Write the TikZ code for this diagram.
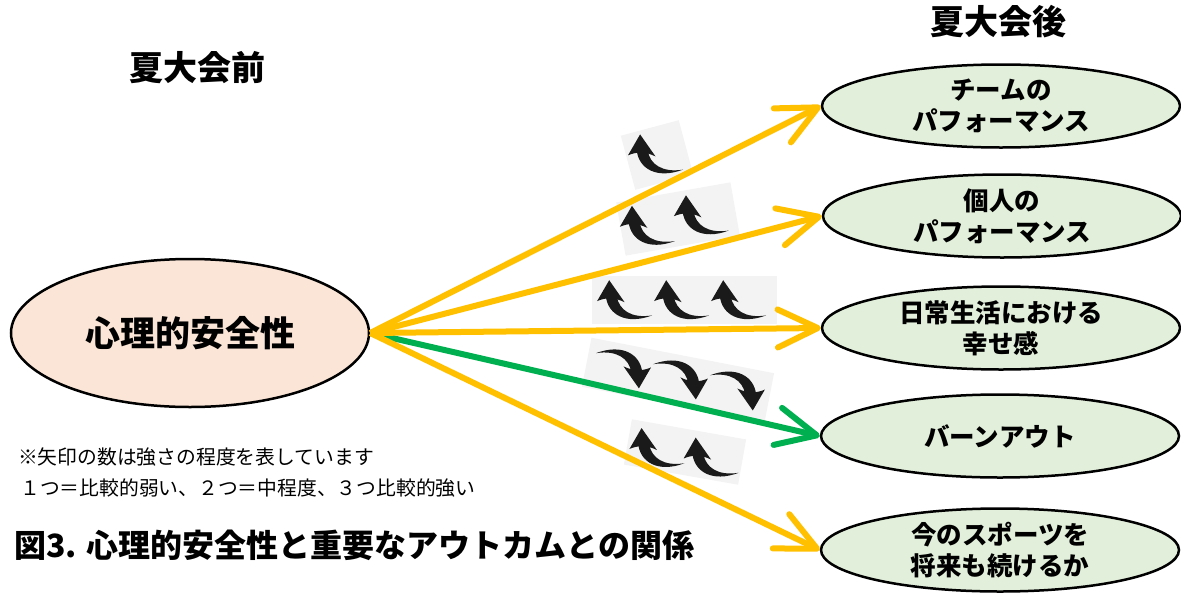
\documentclass[tikz,border=0pt]{standalone}
\usepackage{fontspec}
\newfontfamily\jp{Noto Sans CJK JP}
\usetikzlibrary{shapes.geometric,arrows.meta}
\definecolor{arrY}{HTML}{FFC000}
\definecolor{arrG}{HTML}{00B050}
\definecolor{srcfill}{HTML}{FBE5D6}
\definecolor{outfill}{HTML}{E2EFDA}
\definecolor{iconbg}{HTML}{F3F3F3}
\definecolor{iconfg}{HTML}{1A1A1A}
\tikzset{
  every node/.style={font=\jp},
  srcnode/.style={ellipse, draw=black, line width=2.5pt, fill=srcfill, minimum width=358pt, minimum height=148pt, inner sep=0pt, font=\jp\bfseries\fontsize{35}{40}\selectfont},
  outnode/.style={ellipse, draw=black, line width=2.5pt, fill=outfill, minimum width=358pt, minimum height=83pt, inner sep=0pt, align=center, font=\jp\bfseries\fontsize{25.5}{31}\selectfont},
  header/.style={font=\jp\bfseries\fontsize{34}{38}\selectfont},
  notetext/.style={anchor=west, inner sep=0pt, font=\jp\fontsize{19.8}{22}\selectfont},
  titletext/.style={anchor=west, inner sep=0pt, font=\jp\bfseries\fontsize{32}{36}\selectfont},
  link/.style={line width=6pt, -{Straight Barb[length=40pt,width=38pt,round]}},
  iconbox/.style={fill=iconbg, draw=none},
  upcurl/.pic={
    \begin{scope}[scale=1.1, shift={(-18,-18)}]
      \fill[iconfg] (0,0) -- (-11,19) .. controls (-4,16) and (4,15) .. (14,20) -- cycle;
      \fill[iconfg] (-3,15) .. controls (-1,31) and (15,41) .. (39,32)
                    .. controls (20,35) and (9,27) .. (7,15) -- cycle;
    \end{scope}
  }
}
\begin{document}
\begin{tikzpicture}[x=1pt,y=-1pt]
\useasboundingbox (0,0) rectangle (1181,595);

% headers
\node[header] (hpre) at (197,68) {夏大会前};
\node[header] (hpost) at (998,22) {夏大会後};

% strength icons (behind the connectors)
\begin{scope}[shift={(657,155)}, rotate=15]
  \fill[iconbox] (-30,-28) rectangle (30,28);
  \pic at (3,0) {upcurl};
\end{scope}
\begin{scope}[shift={(678,219)}, rotate=10]
  \fill[iconbox] (-58,-27) rectangle (58,27);
  \pic at (-27,2) {upcurl};
  \pic at (28,1) {upcurl};
\end{scope}
\begin{scope}[shift={(684,300)}]
  \fill[iconbox] (-92,-24) rectangle (93,24);
  \pic at (-55,0) {upcurl};
  \pic at (2,0) {upcurl};
  \pic at (59,0) {upcurl};
\end{scope}
\begin{scope}[shift={(678,380)}, rotate=-11]
  \fill[iconbox] (-93,-25) rectangle (93,25);
  \pic[rotate=180] at (-60,0) {upcurl};
  \pic[rotate=180] at (-2,0) {upcurl};
  \pic[rotate=180] at (56,0) {upcurl};
\end{scope}
\begin{scope}[shift={(685,452)}, rotate=-10]
  \fill[iconbox] (-58,-23) rectangle (58,23);
  \pic at (-24,0) {upcurl};
  \pic at (31,0) {upcurl};
\end{scope}

% nodes
\node[srcnode] (src) at (190,333) {心理的安全性};
\node[outnode] (t1) at (1001,106) {チームの\\パフォーマンス};
\node[outnode] (t2) at (1002,216) {個人の\\パフォーマンス};
\node[outnode] (t3) at (1001,328) {日常生活における\\幸せ感};
\node[outnode] (t4) at (1000,436) {バーンアウト};
\node[outnode] (t5) at (1000,550) {今のスポーツを\\将来も続けるか};

% connectors
\draw[link, arrG] (src.east) -- (t4.west);
\draw[link, arrY] (src.east) -- (t1.west);
\draw[link, arrY] (src.east) -- (t2.west);
\draw[link, arrY] (src.east) -- (t3.west);
\draw[link, arrY] (src.east) -- (t5.west);

% notes and caption
\node[notetext] (note1) at (18,457) {※矢印の数は強さの程度を表しています};
\node[notetext] (note2) at (20,488) {１つ＝比較的弱い、２つ＝中程度、３つ比較的強い};
\node[titletext] (caption) at (14,545) {図3. 心理的安全性と重要なアウトカムとの関係};
\end{tikzpicture}
\end{document}
